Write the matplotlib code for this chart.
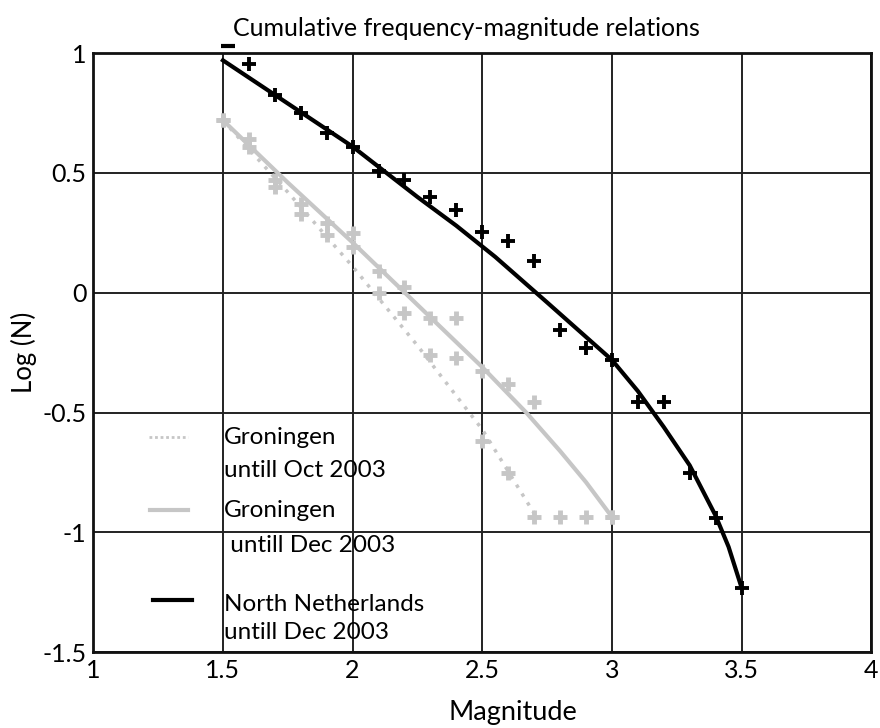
import numpy as np
import matplotlib.pyplot as plt

plt.rcParams['font.family'] = ['Lato', 'DejaVu Sans']

# North Netherlands, until Dec 2003 (observed points)
nn_mag = [1.6, 1.7, 1.8, 1.9, 2.0, 2.1, 2.2, 2.3, 2.4, 2.5, 2.6, 2.7,
          2.8, 2.9, 3.0, 3.1, 3.2, 3.3, 3.4, 3.5]
nn_logn = [0.955, 0.827, 0.75, 0.668, 0.61, 0.51, 0.47, 0.40, 0.347, 0.253,
           0.216, 0.133, -0.155, -0.23, -0.28, -0.455, -0.455, -0.75, -0.94, -1.23]
# point at M=1.5 drawn as a dash at the top edge
nn_top_mag = [1.52]
nn_top_logn = [1.03]
# fitted curve
nn_fit_mag = [1.5, 1.75, 2.0, 2.25, 2.4, 2.55, 2.75, 3.0, 3.1, 3.2, 3.3, 3.4, 3.45, 3.5]
nn_fit_logn = [0.97, 0.79, 0.61, 0.40, 0.28, 0.15, -0.04, -0.28, -0.41, -0.56, -0.72,
               -0.93, -1.06, -1.23]

# Groningen until Dec 2003
gd_mag = [1.5, 1.6, 1.7, 1.8, 1.9, 2.0, 2.1, 2.2, 2.3, 2.4, 2.5, 2.6, 2.7, 3.0]
gd_logn = [0.72, 0.64, 0.47, 0.37, 0.29, 0.25, 0.09, 0.025, -0.105, -0.105,
           -0.325, -0.38, -0.455, -0.935]
gd_fit_mag = [1.5, 1.75, 2.0, 2.25, 2.5, 2.67, 2.8, 2.9, 3.0]
gd_fit_logn = [0.72, 0.46, 0.21, -0.05, -0.31, -0.50, -0.66, -0.79, -0.935]

# Groningen until Oct 2003
go_mag = [1.5, 1.6, 1.7, 1.8, 1.9, 2.0, 2.1, 2.2, 2.3, 2.4, 2.5, 2.6, 2.7, 2.8, 2.9, 3.0]
go_logn = [0.72, 0.61, 0.44, 0.33, 0.24, 0.19, 0.0, -0.085, -0.26, -0.27,
           -0.62, -0.75, -0.935, -0.935, -0.935, -0.935]
go_fit_mag = [1.5, 1.75, 2.0, 2.25, 2.5, 2.7]
go_fit_logn = [0.72, 0.42, 0.11, -0.22, -0.57, -0.92]

grey = '#c6c6c6'

fig = plt.figure(figsize=(8.8, 7.28), dpi=100)
ax = fig.add_axes([0.106, 0.104, 0.884, 0.823])

# grid
ax.set_xlim(1, 4)
ax.set_ylim(-1.5, 1)
ax.set_xticks([1, 1.5, 2, 2.5, 3, 3.5, 4])
ax.set_xticklabels(['1', '1.5', '2', '2.5', '3', '3.5', '4'])
ax.set_yticks([-1.5, -1, -0.5, 0, 0.5, 1])
ax.set_yticklabels(['-1.5', '-1', '-0.5', '0', '0.5', '1'])
ax.grid(True, color='#222222', linewidth=1.4)
ax.set_axisbelow(True)
for s in ax.spines.values():
    s.set_linewidth(2)
    s.set_color('#111111')
ax.tick_params(length=0, labelsize=18, pad=5)

# Groningen (Oct) - dotted
ax.plot(go_fit_mag, go_fit_logn, color=grey, linestyle=(0, (1, 2)), linewidth=2.5)
ax.plot(go_mag, go_logn, '+', color=grey, markersize=10, markeredgewidth=3.5)
# Groningen (Dec) - solid
ax.plot(gd_fit_mag, gd_fit_logn, color=grey, linewidth=3)
ax.plot(gd_mag, gd_logn, '+', color=grey, markersize=10, markeredgewidth=3.5)
# North Netherlands
ax.plot(nn_fit_mag, nn_fit_logn, color='black', linewidth=3)
ax.plot(nn_mag, nn_logn, '+', color='black', markersize=10, markeredgewidth=2.8)
ax.plot(nn_top_mag, nn_top_logn, '_', color='black', markersize=10,
        markeredgewidth=3, clip_on=False)

ax.set_title('Cumulative frequency-magnitude relations', fontsize=18, pad=12, x=0.48)
ax.set_xlabel('Magnitude', fontsize=19.5)
ax.xaxis.label.set_va('center')
ax.xaxis.set_label_coords(0.54, -0.10)
ax.set_ylabel('Log (N)', fontsize=18.5, labelpad=4)

# legend drawn by hand
tr = ax.transAxes
ax.plot([0.071, 0.122], [0.359, 0.359], color=grey, linestyle=(0, (1, 1)),
        linewidth=2, transform=tr)
ax.plot([0.073, 0.122], [0.237, 0.237], color=grey, linewidth=3, transform=tr)
ax.plot([0.077, 0.127], [0.087, 0.087], color='black', linewidth=3, transform=tr)
fs = 17.5
ax.text(0.168, 0.359, 'Groningen', transform=tr, fontsize=fs, va='center')
ax.text(0.168, 0.304, 'untill Oct 2003', transform=tr, fontsize=fs, va='center')
ax.text(0.168, 0.237, 'Groningen', transform=tr, fontsize=fs, va='center')
ax.text(0.168, 0.179, ' untill Dec 2003', transform=tr, fontsize=fs, va='center')
ax.text(0.168, 0.079, 'North Netherlands', transform=tr, fontsize=fs, va='center')
ax.text(0.168, 0.033, 'untill Dec 2003', transform=tr, fontsize=fs, va='center')

fig.savefig('out.png', dpi=100)
